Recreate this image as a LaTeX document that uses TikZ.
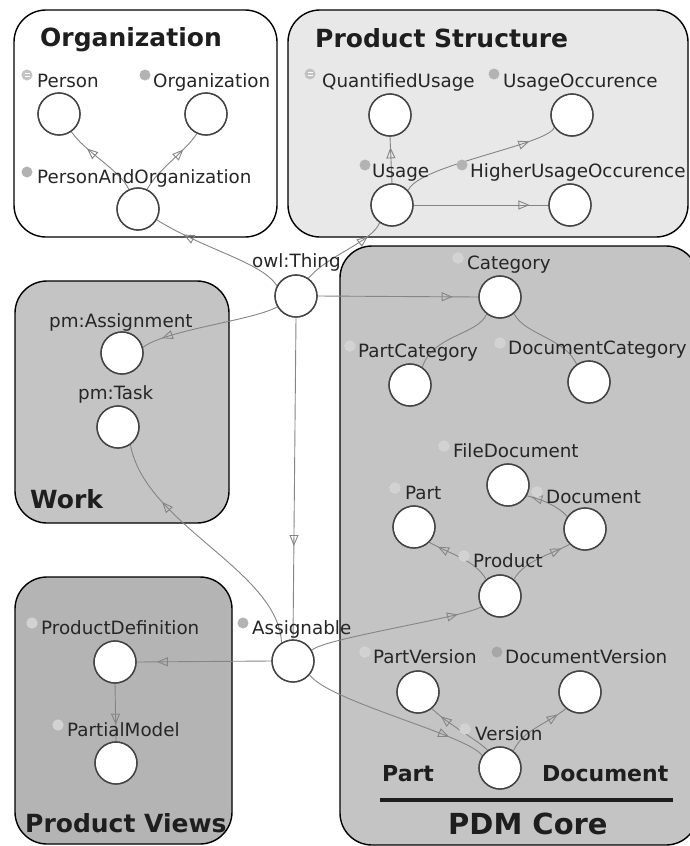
\documentclass[tikz,border=0pt]{standalone}
\usepackage{fontspec}
\setmainfont{DejaVu Sans}
\usetikzlibrary{arrows.meta,decorations.markings}

\definecolor{circline}{HTML}{444444}
\definecolor{edgegray}{HTML}{858585}
\definecolor{labeltext}{HTML}{262626}
\definecolor{titletext}{HTML}{1E1E1E}
\definecolor{psfill}{HTML}{E8E8E8}
\definecolor{workfill}{HTML}{C4C4C4}
\definecolor{pvfill}{HTML}{B4B4B4}
\definecolor{dotgray}{HTML}{B3B3B3}
\definecolor{dotpale}{HTML}{D2D2D2}
\definecolor{dotdark}{HTML}{A6A6A6}

\tikzset{
  cls/.style={circle, draw=circline, fill=white, line width=1.3pt,
    minimum size=42pt, inner sep=0pt},
  lbl/.style={anchor=base west, inner sep=0pt, text=labeltext,
    font=\fontsize{18.3}{21}\selectfont},
  ttl/.style={anchor=base west, inner sep=0pt, text=titletext,
    font=\fontsize{25}{28}\selectfont\bfseries},
  group/.style={draw=black, line width=1.4pt, rounded corners=32pt},
  link/.style={draw=edgegray, line width=0.9pt},
  isa/.style={link, color=edgegray, postaction={decorate},
    decoration={markings, mark=at position #1 with
      {\arrow{Triangle[open, length=11pt, width=9pt, line width=0.9pt]}}}},
  isa/.default=0.8,
  dotsolid/.style={circle, fill=dotgray, minimum size=11pt, inner sep=0pt},
  dotdeep/.style={circle, fill=dotdark, minimum size=11pt, inner sep=0pt},
  dotpale/.style={circle, fill=dotpale, draw=white, draw opacity=0.35,
    densely dotted, line width=0.6pt, minimum size=11pt, inner sep=0pt},
  dotlist/.style={circle, fill=dotgray!80, minimum size=11pt, inner sep=0pt,
    path picture={
      \draw[white, line width=0.7pt]
        ([xshift=-2.5pt, yshift=1.4pt]path picture bounding box.center) -- ++(5pt,0)
        ([xshift=-2.5pt, yshift=-1.4pt]path picture bounding box.center) -- ++(5pt,0);}},
}

\begin{document}
\begin{tikzpicture}[x=1pt, y=-1pt]
\clip (0,0) rectangle (690,846);
\fill[white] (0,0) rectangle (690,846);

% ---- group boxes ----
\draw[group, fill=white]    (14,10)   rectangle (277,237);
\draw[group, fill=psfill]   (288,10)  rectangle (688,237);
\draw[group, fill=workfill] (15,281)  rectangle (229,523);
\draw[group, fill=workfill] (340,246) rectangle (698,845);
\draw[group, fill=pvfill]   (15,577)  rectangle (232,844);

% ---- classes ----
\node[cls] (person)   at (59,114)  {};
\node[cls] (org)      at (206,114) {};
\node[cls] (pao)      at (138,209) {};
\node[cls] (qusage)   at (390,115) {};
\node[cls] (uocc)     at (572,115) {};
\node[cls] (usage)    at (392,205) {};
\node[cls] (huocc)    at (570,205) {};
\node[cls] (thing)    at (296,296) {};
\node[cls] (assign)   at (122,353) {};
\node[cls] (task)     at (118,427) {};
\node[cls] (category) at (500,297) {};
\node[cls] (partcat)  at (410,385) {};
\node[cls] (doccat)   at (589,382) {};
\node[cls] (filedoc)  at (508,485) {};
\node[cls] (part)     at (414,527) {};
\node[cls] (document) at (585,529) {};
\node[cls] (product)  at (500,596) {};
\node[cls] (partver)  at (418,692) {};
\node[cls] (docver)   at (580,692) {};
\node[cls] (version)  at (500,768) {};
\node[cls] (proddef)  at (115,662) {};
\node[cls] (partial)  at (116,763) {};
\node[cls] (assignable) at (293,661) {};

% ---- subclass links ----
\draw[isa=0.72] (pao.115) .. controls (120,170) and (85,152) .. (person.-55);
\draw[isa=0.72] (pao.65) .. controls (157,170) and (185,152) .. (org.-115);
\draw[isa=0.78] (thing.152) .. controls (262,262) and (205,250) .. (pao.-30);
\draw[isa=0.8]  (thing.55) .. controls (328,255) and (372,242) .. (usage.-125);
\draw[isa=0.77] (usage.north) -- (qusage.south);
\draw[isa=0.82] (usage.42) .. controls (418,165) and (548,145) .. (uocc.-145);
\draw[isa=0.86] (usage.east) -- (huocc.west);
\draw[isa=0.84] (thing.east) -- (category.west);
\draw[isa=0.85] (thing.-150) .. controls (255,320) and (165,330) .. (assign.15);
\draw[isa=0.71] (thing.south) -- (assignable.north);
\draw[isa=0.74] (assignable.122) .. controls (278,570) and (145,525) .. (task.-55);
\draw[link] (category.-128) .. controls (478,335) and (432,335) .. (partcat.55);
\draw[link] (category.-50) .. controls (525,335) and (565,338) .. (doccat.125);
\draw[isa=0.86] (product.130) .. controls (475,560) and (452,555) .. (part.-45);
\draw[isa=0.86] (product.50) .. controls (525,560) and (550,555) .. (document.-135);
\draw[isa=0.9]  (document.145) .. controls (560,508) and (545,500) .. (filedoc.-30);
\draw[isa=0.86] (assignable.30) .. controls (325,638) and (462,618) .. (product.-150);
\draw[isa=0.8]  (assignable.-40) .. controls (330,702) and (468,735) .. (version.145);
\draw[isa=0.83] (version.125) .. controls (478,740) and (450,726) .. (partver.-50);
\draw[isa=0.85] (version.52) .. controls (523,730) and (545,725) .. (docver.-130);
\draw[isa=0.85] (assignable.west) -- (proddef.east);
\draw[isa=0.71] (proddef.south) -- (partial.north);

% outline the classes again so that the link ends sit under them
\foreach \n in {person,org,pao,qusage,uocc,usage,huocc,thing,assign,task,
  category,partcat,doccat,filedoc,part,document,product,partver,docver,
  version,proddef,partial,assignable}
  \draw[circline, line width=1.3pt] (\n.center) circle (21pt);

% ---- class markers ----
\node[dotlist]  (d-person)   at (27,75)   {};
\node[dotsolid] (d-org)      at (145,75)  {};
\node[dotsolid] (d-pao)      at (27,172)  {};
\node[dotlist]  (d-qusage)   at (310,74)  {};
\node[dotsolid] (d-uocc)     at (494,74)  {};
\node[dotsolid] (d-usage)    at (365,165) {};
\node[dotsolid] (d-huocc)    at (462,165) {};
\node[dotpale]  (d-category) at (458,258) {};
\node[dotpale]  (d-partcat)  at (350,346) {};
\node[dotpale]  (d-doccat)   at (500,343) {};
\node[dotpale]  (d-filedoc)  at (444,446) {};
\node[dotpale]  (d-part)     at (395,488) {};
\node[dotpale]  (d-document) at (537,492) {};
\node[dotpale]  (d-product)  at (464,556) {};
\node[dotpale]  (d-partver)  at (365,652) {};
\node[dotdeep]  (d-docver)   at (497,652) {};
\node[dotpale]  (d-version)  at (465,729) {};
\node[dotpale]  (d-proddef)  at (32,623)  {};
\node[dotpale]  (d-partial)  at (58,725)  {};
\node[dotsolid] (d-assignable) at (243,623) {};

% ---- class labels ----
\node[lbl] (l-person)   at (37,87)   {Person};
\node[lbl] (l-org)      at (153,87)  {Organization};
\node[lbl] (l-pao)      at (37,183)  {PersonAndOrganization};
\node[lbl] (l-qusage)   at (322,87)  {QuantifiedUsage};
\node[lbl] (l-uocc)     at (503,87)  {UsageOccurence};
\node[lbl] (l-usage)    at (372,177) {Usage};
\node[lbl] (l-huocc)    at (470,177) {HigherUsageOccurence};
\node[lbl] (l-thing)    at (252,267) {owl:Thing};
\node[lbl] (l-assign)   at (49,327)  {pm:Assignment};
\node[lbl] (l-task)     at (78,399)  {pm:Task};
\node[lbl] (l-category) at (467,269) {Category};
\node[lbl] (l-partcat)  at (358,357) {PartCategory};
\node[lbl] (l-doccat)   at (508,354) {DocumentCategory};
\node[lbl] (l-filedoc)  at (453,457) {FileDocument};
\node[lbl] (l-part)     at (405,499) {Part};
\node[lbl] (l-document) at (546,503) {Document};
\node[lbl] (l-product)  at (473,567) {Product};
\node[lbl] (l-partver)  at (373,663) {PartVersion};
\node[lbl] (l-docver)   at (505,663) {DocumentVersion};
\node[lbl] (l-version)  at (475,740) {Version};
\node[lbl] (l-proddef)  at (41,634)  {ProductDefinition};
\node[lbl] (l-partial)  at (67,736)  {PartialModel};
\node[lbl] (l-assignable) at (252,634) {Assignable};

% ---- group titles ----
\node[ttl] (t-org)  at (40,46)  {Organization};
\node[ttl] (t-ps)   at (315,47) {Product Structure};
\node[ttl] (t-work) at (30,508) {Work};
\node[ttl] (t-pv)   at (25,832) {Product Views};
\node[ttl, font=\fontsize{22}{25}\selectfont\bfseries] (t-part) at (382,781) {Part};
\node[ttl, font=\fontsize{22}{25}\selectfont\bfseries] (t-doc)  at (542,781) {Document};
\coordinate (rule-l) at (380,800);
\coordinate (rule-r) at (673,800);
\draw[titletext, line width=4pt] (rule-l) -- (rule-r);
\node[ttl, font=\fontsize{29}{32}\selectfont\bfseries] (t-pdm) at (448,834) {PDM Core};
\end{tikzpicture}
\end{document}
